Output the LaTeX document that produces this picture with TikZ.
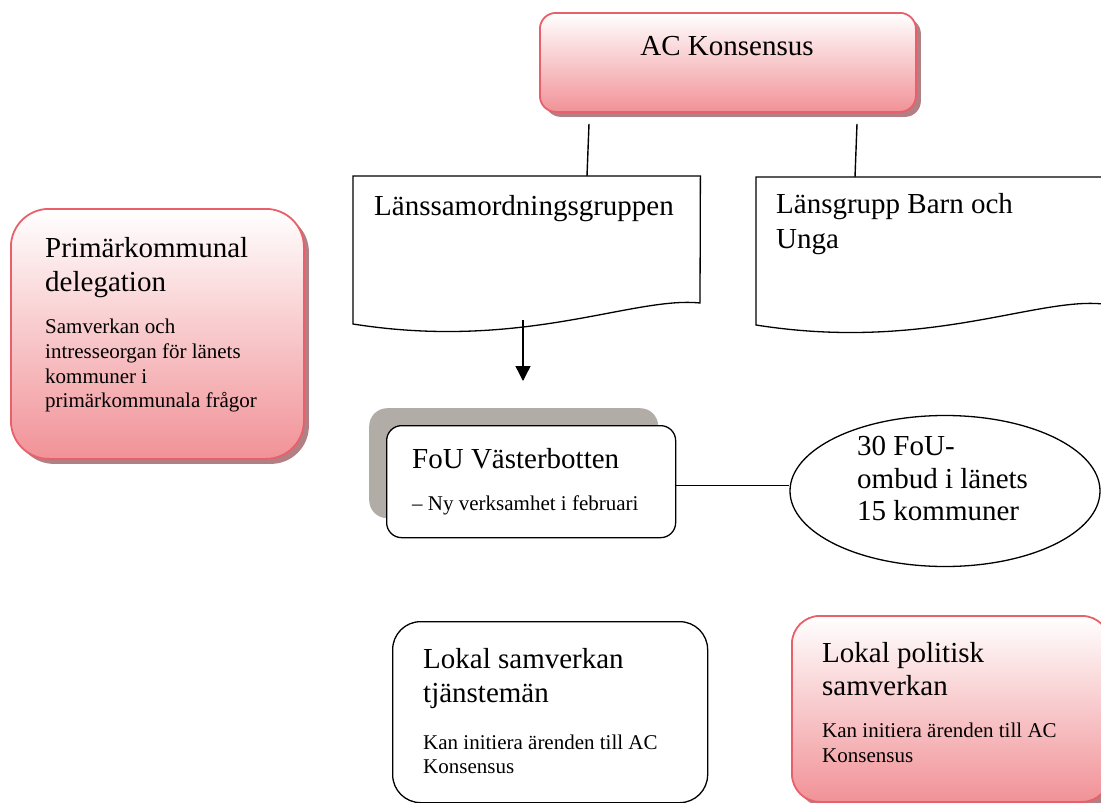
\documentclass[tikz,border=0pt]{standalone}
\usepackage{fontspec}
\setmainfont{Liberation Serif}
\usetikzlibrary{shadows,calc,arrows.meta,shapes.geometric}
\definecolor{pinkB}{RGB}{241,146,151}
\definecolor{pinkline}{RGB}{232,96,106}
\definecolor{shadowpink}{RGB}{178,128,132}
\definecolor{greyshadow}{RGB}{178,172,166}
\tikzset{
  txtbig/.style={font=\fontsize{29}{35}\selectfont, anchor=base west, inner sep=0pt},
  txtsmall/.style={font=\fontsize{21}{24}\selectfont, anchor=base west, inner sep=0pt},
  pinkbox/.style={rectangle, draw=pinkline, line width=1.8pt, top color=white, bottom color=pinkB,
    drop shadow={shadow xshift=5pt, shadow yshift=-5pt, fill=shadowpink, opacity=1}, anchor=north west, inner sep=0pt},
  whitebox/.style={rectangle, draw=black, line width=1.3pt, fill=white, anchor=north west, inner sep=0pt},
  docline/.style={draw=black, line width=1.3pt, fill=white},
  conn/.style={draw=black, line width=1.4pt},
}
\begin{document}
\begin{tikzpicture}[x=1pt,y=-1pt]
\path[use as bounding box] (0,0) rectangle (1101,803);
\clip (0,0) rectangle (1101,803);

% AC Konsensus
\node[pinkbox, rounded corners=16pt, minimum width=376pt, minimum height=99pt] (ac) at (539,12) {};
\node[font=\fontsize{29}{35}\selectfont, anchor=base, inner sep=0pt] (actxt) at (727,55) {AC Konsensus};

% Document shapes
\node[anchor=north west, minimum width=347pt, minimum height=157pt, inner sep=0pt] (lsg) at (353,176) {};
\path[docline] (lsg.north west) -- (lsg.north east) -- ($(lsg.north west)+(347,127)$)
  .. controls ($(lsg.north west)+(280,120)$) and ($(lsg.north west)+(170,175)$) .. ($(lsg.north west)+(0,148)$) -- cycle;
\node[txtbig] (lsgtxt) at (374,215) {Länssamordningsgruppen};

\node[anchor=north west, minimum width=347pt, minimum height=157pt, inner sep=0pt] (lbu) at (756,177) {};
\path[docline] (lbu.north west) -- (lbu.north east) -- ($(lbu.north west)+(347,127)$)
  .. controls ($(lbu.north west)+(280,120)$) and ($(lbu.north west)+(170,175)$) .. ($(lbu.north west)+(0,148)$) -- cycle;
\node[txtbig] (lbutxt1) at (776,213) {Länsgrupp Barn och};
\node[txtbig] (lbutxt2) at (776,248) {Unga};

% connectors from AC
\draw[conn] ($(ac.south west)+(50,11)$) -- ($(lsg.north west)+(234,0)$);
\draw[conn] ($(ac.south west)+(318,11)$) -- ($(lbu.north west)+(99,0)$);

% Arrow
\coordinate (arrend) at (523,381);
\draw[conn, -{Triangle[width=15pt,length=15pt]}] ($(lsg.north west)+(170,144)$) -- (arrend);

% Primärkommunal delegation
\node[pinkbox, rounded corners=38pt, minimum width=293pt, minimum height=250pt] (pkd) at (10,208) {};
\node[txtbig] (pkd1) at (45,257) {Primärkommunal};
\node[txtbig] (pkd2) at (45,291) {delegation};
\node[txtsmall] (pkd3) at (45,333) {Samverkan och};
\node[txtsmall] (pkd4) at (45,358) {intresseorgan för länets};
\node[txtsmall] (pkd5) at (45,383) {kommuner i};
\node[txtsmall] (pkd6) at (45,407) {primärkommunala frågor};

% FoU Västerbotten
\node[rectangle, fill=greyshadow, rounded corners=18pt, anchor=north west, minimum width=289pt, minimum height=110pt, inner sep=0pt] (foush) at (369,408) {};
\node[whitebox, rounded corners=15pt, minimum width=289pt, minimum height=112pt] (fou) at (386,425) {};
\node[txtbig] (fou1) at (412,468) {FoU Västerbotten};
\node[txtsmall] (fou2) at (412,510) {– Ny verksamhet i februari};

% Ellipse
\node[ellipse, draw=black, line width=1.3pt, fill=white, minimum width=310pt, minimum height=151pt, inner sep=0pt] (ell) at (945,491) {};
\node[txtbig] (ell1) at (857,455) {30 FoU-};
\node[txtbig] (ell2) at (857,488) {ombud i länets};
\node[txtbig] (ell3) at (857,520) {15 kommuner};
\draw[conn] ([yshift=-4pt]fou.east) -- ([yshift=-4pt]fou.east -| ell.west);

% Lokal samverkan tjänstemän
\node[whitebox, rounded corners=28pt, minimum width=315pt, minimum height=181pt] (lst) at (392,621) {};
\node[txtbig] (lst1) at (423,668) {Lokal samverkan};
\node[txtbig] (lst2) at (423,702) {tjänstemän};
\node[txtsmall] (lst3) at (423,749) {Kan initiera ärenden till AC};
\node[txtsmall] (lst4) at (423,773) {Konsensus};

% Lokal politisk samverkan
\node[pinkbox, rounded corners=28pt, minimum width=318pt, minimum height=186pt] (lps) at (791,615) {};
\node[txtbig] (lps1) at (822,662) {Lokal politisk};
\node[txtbig] (lps2) at (822,695) {samverkan};
\node[txtsmall] (lps3) at (822,737) {Kan initiera ärenden till AC};
\node[txtsmall] (lps4) at (822,762) {Konsensus};
\end{tikzpicture}
\end{document}
